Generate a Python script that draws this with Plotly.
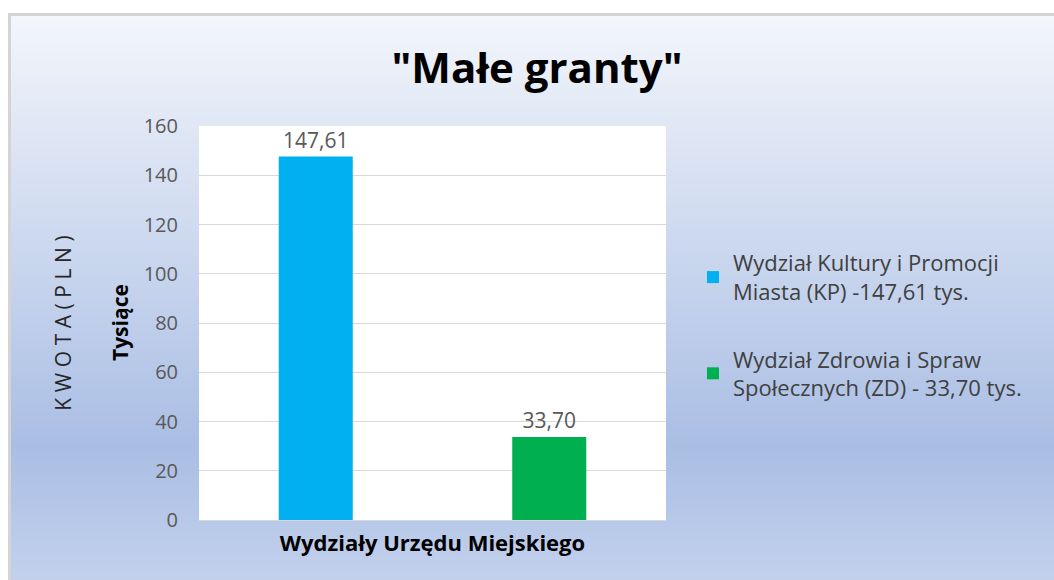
import base64, struct, zlib
import plotly.graph_objects as go

# ---------------- data ----------------
categories = [""]
series_names = [
    "Wydział Kultury i Promocji<br>Miasta (KP) -147,61 tys.",
    "Wydział Zdrowia i Spraw<br>Społecznych (ZD) - 33,70 tys.",
]
series_values = [[147.61], [33.70]]
series_colors = ["#00B0F0", "#00B050"]
y_ticks = [0, 20, 40, 60, 80, 100, 120, 140, 160]

W, H = 1054, 580
ML, MR, MT, MB = 199, 388, 126, 60
PW, PH = W - ML - MR, H - MT - MB

def px_x(px):
    return (px - ML) / PW

def px_y(py):
    return (H - MB - py) / PH

# ---------------- gradient background (PNG, 1 x N) ----------------
stops = [(0.0, (243, 246, 251)), (0.75, (170, 190, 228)), (1.0, (196, 210, 237))]
N = 200
rows = b""
for i in range(N):
    t = i / (N - 1)
    for (t0, c0), (t1, c1) in zip(stops[:-1], stops[1:]):
        if t0 <= t <= t1:
            f = (t - t0) / (t1 - t0)
            c = tuple(int(round(a + (b - a) * f)) for a, b in zip(c0, c1))
            break
    rows += b"\x00" + bytes(c)

def chunk(tag, data):
    return struct.pack(">I", len(data)) + tag + data + struct.pack(">I", zlib.crc32(tag + data) & 0xFFFFFFFF)

png = b"\x89PNG\r\n\x1a\n" + chunk(b"IHDR", struct.pack(">IIBBBBB", 1, N, 8, 2, 0, 0, 0)) \
      + chunk(b"IDAT", zlib.compress(rows)) + chunk(b"IEND", b"")
grad_src = "data:image/png;base64," + base64.b64encode(png).decode()

FONT = "'Open Sans', Carlito, Calibri, sans-serif"

fig = go.Figure()
for name, vals, col in zip(series_names, series_values, series_colors):
    fig.add_trace(go.Bar(
        x=categories, y=vals, name=name, legendgroup=name,
        marker=dict(color=col, line=dict(width=0)),
        texttemplate="%{y:.2f}", textposition="outside", cliponaxis=False,
        textfont=dict(family=FONT, size=21, color="#595959"),
    ))

box_x0, box_x1 = px_x(9.5), px_x(1060)
box_y0, box_y1 = px_y(590), px_y(14.5)

sep = "\u2009\u200a"
kwota = sep.join(list("KWOTA")) + " " + sep.join(list("(PLN)"))

fig.update_layout(
    width=W, height=H,
    margin=dict(l=ML, r=MR, t=MT, b=MB, autoexpand=False),
    paper_bgcolor="white", plot_bgcolor="white",
    separators=", ",
    barmode="group", bargap=0.0, bargroupgap=0.683,
    font=dict(family=FONT, color="#404040"),
    title=dict(text='<b>"Małe granty"</b>', x=537 / W, xanchor="center",
               y=1 - 68 / H, yanchor="middle", yref="container",
               font=dict(family=FONT, size=42, color="#000000")),
    xaxis=dict(showticklabels=False, showline=True, linecolor="#D9D9D9", linewidth=1,
               ticks="", showgrid=False, fixedrange=True,
               title=dict(text="<b>Wydziały Urzędu Miejskiego</b>", standoff=15,
                          font=dict(family=FONT, size=22, color="#000000"))),
    yaxis=dict(range=[0, 160], tickvals=y_ticks, showgrid=True, gridcolor="#D9D9D9",
               gridwidth=1, zeroline=False, showline=False, ticks="",
               ticklabelstandoff=20, fixedrange=True,
               tickfont=dict(family=FONT, size=20, color="#595959"),
               title=dict(text=kwota, standoff=66,
                          font=dict(family=FONT, size=21, color="#262626"))),
    legend=dict(x=px_x(693), xanchor="left", y=px_y(242), yanchor="top",
                traceorder="grouped", tracegroupgap=36, bgcolor="rgba(0,0,0,0)",
                font=dict(family=FONT, size=22, color="#404040")),
    images=[dict(source=grad_src, xref="paper", yref="paper",
                 x=box_x0, y=box_y1, sizex=box_x1 - box_x0, sizey=box_y1 - box_y0,
                 sizing="stretch", layer="below", xanchor="left", yanchor="top")],
    shapes=[
        dict(type="rect", xref="x domain", yref="y domain", x0=0, x1=1, y0=0, y1=1,
             fillcolor="white", line=dict(width=0), layer="below"),
        dict(type="rect", xref="paper", yref="paper", x0=box_x0, x1=box_x1,
             y0=box_y0, y1=box_y1, fillcolor="rgba(0,0,0,0)",
             line=dict(color="#D4D4D4", width=3), layer="below"),
    ],
    annotations=[
        dict(text="<b>Tysiące</b>", xref="paper", yref="paper", x=px_x(120), y=0.5,
             xanchor="center", yanchor="middle", textangle=-90, showarrow=False,
             font=dict(family=FONT, size=21, color="#000000")),
    ],
)

fig.write_html("out.html", config={"displayModeBar": False},
               post_script="document.body.style.margin='0';")
